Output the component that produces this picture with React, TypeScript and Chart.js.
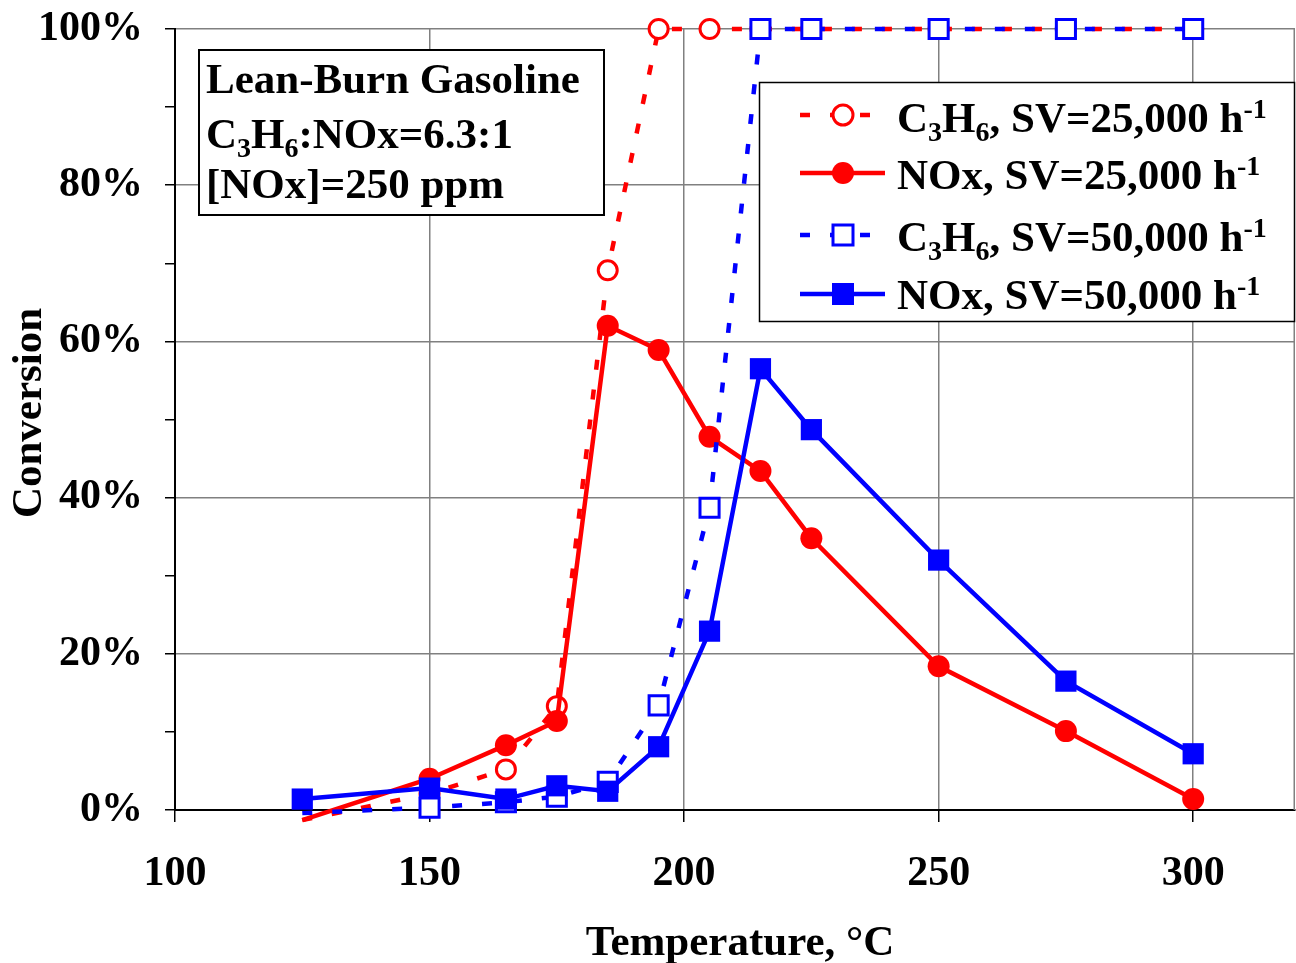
import React, { useEffect, useRef } from "react";
import { Chart, registerables } from "chart.js";

Chart.register(...registerables);

// ---- Data ----
const TEMPS = [125, 150, 165, 175, 185, 195, 205, 215, 225, 250, 275, 300];
const C3H6_SV25K = [-1.3, 2.1, 5.2, 13.3, 69.1, 100, 100, 100, 100, 100, 100, 100];
const NOX_SV25K = [-1.3, 4.0, 8.3, 11.4, 62.0, 58.9, 47.8, 43.4, 34.8, 18.4, 10.1, 1.4];
const C3H6_SV50K = [-0.4, 0.3, 1.0, 1.7, 3.6, 13.4, 38.7, 100, 100, 100, 100, 100];
const NOX_SV50K = [1.4, 2.8, 1.4, 3.1, 2.4, 8.1, 22.9, 56.5, 48.7, 32.0, 16.5, 7.2];

const X_TICKS = [100, 150, 200, 250, 300];
const Y_TICKS = [0, 10, 20, 30, 40, 50, 60, 70, 80, 90, 100];
const Y_LABELED = [0, 20, 40, 60, 80, 100];

const X_TITLE = "Temperature, °C";
const Y_TITLE = "Conversion";
const NOTE_LINES: [string, string][][] = [
  [["Lean-Burn Gasoline", "n"]],
  [["C", "n"], ["3", "sub"], ["H", "n"], ["6", "sub"], [":NOx=6.3:1", "n"]],
  [["[NOx]=250 ppm", "n"]],
];
const LEGEND_LABELS: [string, string][][] = [
  [["C", "n"], ["3", "sub"], ["H", "n"], ["6", "sub"], [", SV=25,000 h", "n"], ["-1", "sup"]],
  [["NOx, SV=25,000 h", "n"], ["-1", "sup"]],
  [["C", "n"], ["3", "sub"], ["H", "n"], ["6", "sub"], [", SV=50,000 h", "n"], ["-1", "sup"]],
  [["NOx, SV=50,000 h", "n"], ["-1", "sup"]],
];

const RED = "#FF0000";
const BLUE = "#0000FF";
const FONT = '"Liberation Serif", "Times New Roman", serif';
const DASH = [10, 20];
const LW = 4.5;

const toPts = (ys: number[]) => TEMPS.map((x, i) => ({ x, y: ys[i] }));

function drawRich(
  ctx: CanvasRenderingContext2D,
  x: number,
  y: number,
  parts: [string, string][],
  size: number
) {
  let cx = x;
  const small = Math.round(size * 0.66);
  for (const [t, k] of parts) {
    const fs = k === "n" ? size : small;
    ctx.font = `bold ${fs}px ${FONT}`;
    const dy = k === "sub" ? 9 : k === "sup" ? -14 : 0;
    ctx.fillText(t, cx, y + dy);
    cx += ctx.measureText(t).width;
  }
}

const overlayPlugin = {
  id: "overlay",
  afterDraw(chart: any) {
    const ctx: CanvasRenderingContext2D = chart.ctx;
    const a = chart.chartArea;
    ctx.save();
    // right border of plot area
    ctx.strokeStyle = "#808080";
    ctx.lineWidth = 1.5;
    ctx.beginPath();
    ctx.moveTo(a.right - 0.75, a.top);
    ctx.lineTo(a.right - 0.75, a.bottom);
    ctx.stroke();

    ctx.textBaseline = "alphabetic";
    ctx.textAlign = "left";

    // annotation box
    ctx.fillStyle = "#fff";
    ctx.fillRect(199, 50, 405, 165);
    ctx.strokeStyle = "#000";
    ctx.lineWidth = 2;
    ctx.strokeRect(199, 50, 405, 165);
    ctx.fillStyle = "#000";
    const noteBase = [93, 148, 198];
    NOTE_LINES.forEach((parts, i) => drawRich(ctx, 206, noteBase[i], parts, 43));

    // legend box
    ctx.fillStyle = "#fff";
    ctx.fillRect(759.5, 82.5, 535, 239);
    ctx.strokeStyle = "#000";
    ctx.lineWidth = 1.5;
    ctx.strokeRect(759.5, 82.5, 535, 239);

    const rowY = [115, 173, 235, 294];
    const baseY = [132, 189, 251, 309];
    const styles = [
      { color: RED, dash: true, shape: "circle", filled: false },
      { color: RED, dash: false, shape: "circle", filled: true },
      { color: BLUE, dash: true, shape: "rect", filled: false },
      { color: BLUE, dash: false, shape: "rect", filled: true },
    ];
    styles.forEach((s, i) => {
      const y = rowY[i];
      ctx.strokeStyle = s.color;
      ctx.lineWidth = LW;
      ctx.setLineDash(s.dash ? DASH : []);
      ctx.beginPath();
      ctx.moveTo(800, y);
      ctx.lineTo(885, y);
      ctx.stroke();
      ctx.setLineDash([]);
      const cx = 843;
      ctx.beginPath();
      if (s.shape === "circle") {
        ctx.arc(cx, y, s.filled ? 11 : 10, 0, Math.PI * 2);
      } else {
        const h = s.filled ? 11 : 10;
        ctx.rect(cx - h, y - h, 2 * h, 2 * h);
      }
      if (s.filled) {
        ctx.fillStyle = s.color;
        ctx.fill();
      } else {
        ctx.fillStyle = "#fff";
        ctx.fill();
        ctx.lineWidth = 3;
        ctx.stroke();
      }
      ctx.fillStyle = "#000";
      drawRich(ctx, 897, baseY[i], LEGEND_LABELS[i], 43);
    });

    // axis titles
    ctx.fillStyle = "#000";
    ctx.font = `bold 43px ${FONT}`;
    ctx.textAlign = "center";
    ctx.textBaseline = "alphabetic";
    ctx.fillText(X_TITLE, 740, 955);
    ctx.save();
    ctx.translate(41, 413);
    ctx.rotate(-Math.PI / 2);
    ctx.fillText(Y_TITLE, 0, 0);
    ctx.restore();

    ctx.restore();
  },
};

export default function App() {
  const ref = useRef<HTMLCanvasElement | null>(null);

  useEffect(() => {
    if (!ref.current) return;
    const hideOut = (r: number) => (c: any) => (c.raw && c.raw.y < 0 ? 0 : r);
    const chart = new Chart(ref.current, {
      type: "line",
      data: {
        datasets: [
          {
            label: "C3H6, SV=25,000 h-1",
            data: toPts(C3H6_SV25K),
            borderColor: RED,
            borderWidth: LW,
            borderDash: DASH,
            pointStyle: "circle",
            pointRadius: hideOut(9.5),
            pointBorderWidth: 3,
            pointBorderColor: RED,
            pointBackgroundColor: "#fff",
            clip: false,
            order: 4,
          },
          {
            label: "NOx, SV=25,000 h-1",
            data: toPts(NOX_SV25K),
            borderColor: RED,
            borderWidth: LW,
            pointStyle: "circle",
            pointRadius: hideOut(11),
            pointBorderWidth: 0,
            pointBackgroundColor: RED,
            clip: false,
            order: 3,
          },
          {
            label: "C3H6, SV=50,000 h-1",
            data: toPts(C3H6_SV50K),
            borderColor: BLUE,
            borderWidth: LW,
            borderDash: DASH,
            pointStyle: "rect",
            pointRadius: hideOut(13.5),
            pointBorderWidth: 3,
            pointBorderColor: BLUE,
            pointBackgroundColor: "#fff",
            clip: false,
            order: 2,
          },
          {
            label: "NOx, SV=50,000 h-1",
            data: toPts(NOX_SV50K),
            borderColor: BLUE,
            borderWidth: LW,
            pointStyle: "rect",
            pointRadius: hideOut(15),
            pointBorderWidth: 0,
            pointBackgroundColor: BLUE,
            clip: false,
            order: 1,
          },
        ],
      },
      options: {
        responsive: true,
        maintainAspectRatio: false,
        animation: false,
        layout: { autoPadding: false, padding: { left: 0, right: 1, top: 29, bottom: 0 } },
        plugins: { legend: { display: false }, tooltip: { enabled: false } },
        elements: { line: { tension: 0, borderCapStyle: "butt" } },
        scales: {
          x: {
            type: "linear",
            min: 100,
            max: 320,
            afterBuildTicks: (s: any) => {
              s.ticks = X_TICKS.map((v) => ({ value: v }));
            },
            afterFit: (s: any) => {
              s.height = 153;
              s.paddingLeft = 0;
              s.paddingRight = 0;
            },
            grid: {
              color: (c: any) => (c.tick && c.tick.value === 100 ? "rgba(0,0,0,0)" : "#808080"),
              lineWidth: 1.5,
              tickColor: "#000",
              tickLength: 12,
              tickWidth: 1.5,
            },
            border: { color: "#000", width: 2 },
            ticks: {
              color: "#000",
              font: { family: FONT, size: 42, weight: "bold" },
              padding: 27,
              maxRotation: 0,
            },
          },
          y: {
            type: "linear",
            min: 0,
            max: 100,
            afterBuildTicks: (s: any) => {
              s.ticks = Y_TICKS.map((v) => ({ value: v }));
            },
            afterFit: (s: any) => {
              s.width = 175;
              s.paddingTop = 0;
              s.paddingBottom = 0;
            },
            grid: {
              color: (c: any) =>
                c.tick && Y_LABELED.includes(c.tick.value) ? "#808080" : "rgba(0,0,0,0)",
              lineWidth: 1.5,
              tickColor: "#000",
              tickLength: 10,
              tickWidth: 1.5,
            },
            border: { color: "#000", width: 2 },
            ticks: {
              color: "#000",
              font: { family: FONT, size: 42, weight: "bold" },
              padding: 22,
              callback: (v: any) => (Y_LABELED.includes(Number(v)) ? `${v}%` : ""),
            },
          },
        },
      },
      plugins: [overlayPlugin],
    } as any);
    return () => chart.destroy();
  }, []);

  return (
    <div style={{ position: "fixed", left: 0, top: 0, width: 1296, height: 963, background: "#fff" }}>
      <canvas ref={ref} />
    </div>
  );
}
